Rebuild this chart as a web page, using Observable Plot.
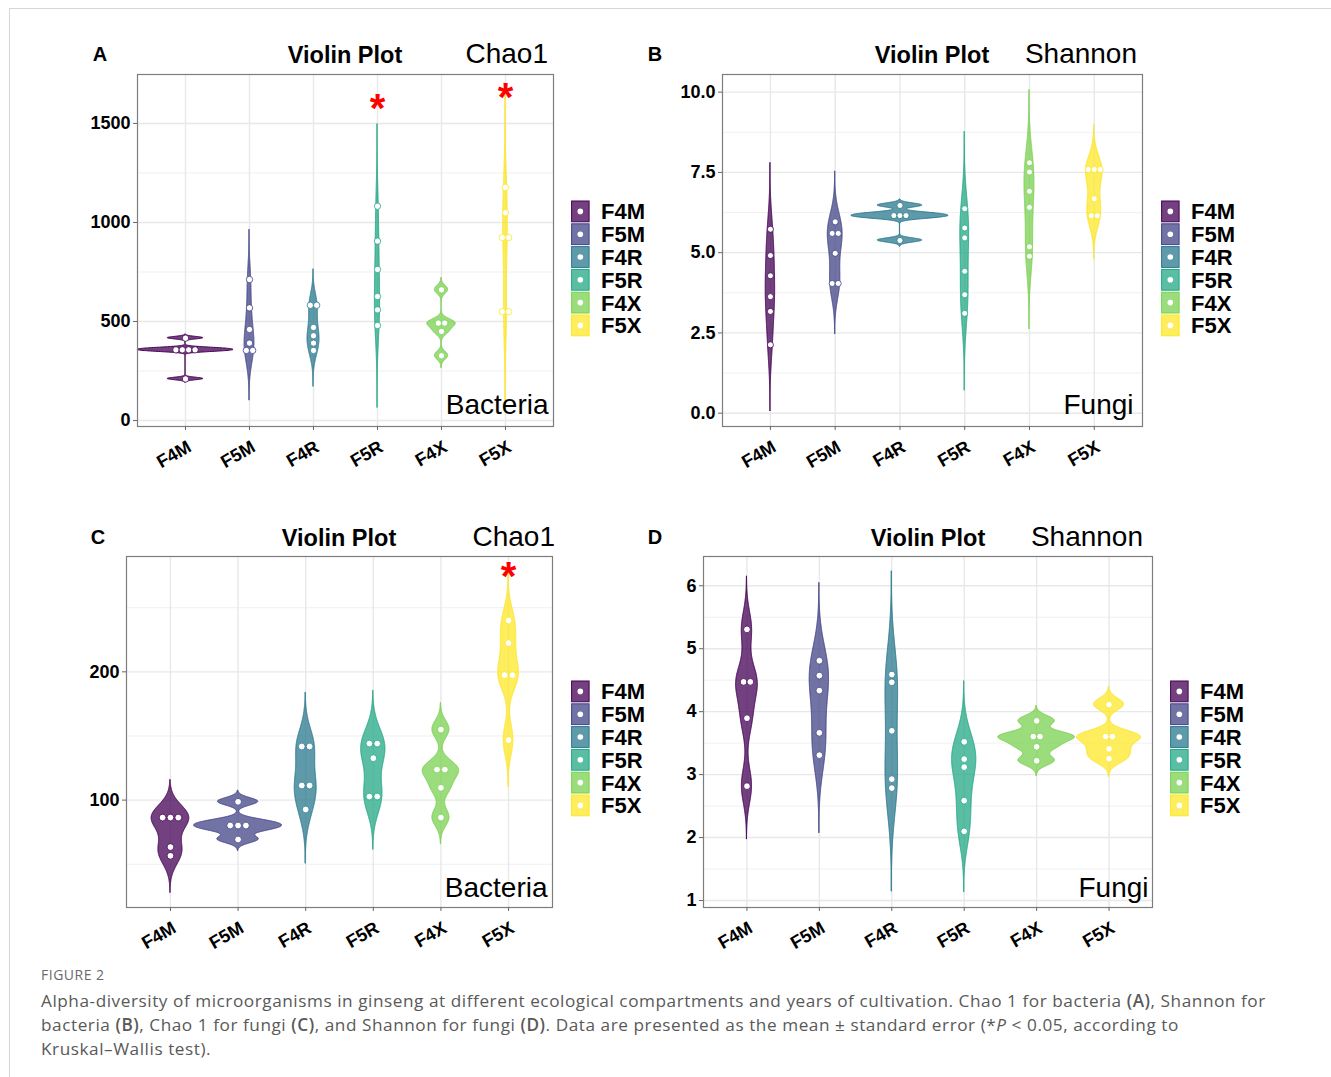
<!DOCTYPE html>
<html><head><meta charset="utf-8">
<script src="https://cdn.jsdelivr.net/npm/d3@7"></script>
<script src="https://cdn.jsdelivr.net/npm/@observablehq/plot@0.6"></script>
<style>
html,body{margin:0;padding:0;background:#fff;overflow:hidden;}
#page{position:relative;width:1331px;height:1077px;overflow:hidden;background:#fff;font-family:"Liberation Sans",Arial,sans-serif;}
#border{position:absolute;left:9px;top:8px;width:1400px;height:1200px;border:1.5px solid #d6d6d6;box-sizing:border-box;}
.panel{position:absolute;}
.panel svg{background:transparent;max-width:none;}
#caption{position:absolute;left:41px;top:963px;font-family:"Open Sans","Noto Sans",sans-serif;color:#595959;white-space:nowrap;}
#caption .fig{font-size:14px;letter-spacing:0.5px;line-height:24px;color:#6a6a6a;}
#caption .txt{font-size:17.2px;letter-spacing:0.55px;line-height:24px;margin-top:2px;}
#caption b{font-weight:600;}
</style></head>
<body><div id="page"><div id="border"></div></div>
<script>
// ---------- data ----------
const groups = ["F4M", "F5M", "F4R", "F5R", "F4X", "F5X"];
const viridis = ["#440154", "#414487", "#2A788E", "#22A884", "#7AD151", "#FDE725"];

// Panel A: Chao1, bacteria (one array per group, in group order)
const chao1A = [
  [416, 365, 360, 354, 349, 210],
  [712, 569, 460, 391, 354, 354],
  [582, 582, 470, 428, 391, 354],
  [1082, 906, 763, 626, 559, 480],
  [660, 492, 492, 450, 327],
  [1177, 1049, 924, 924, 550, 550]
];
// Panel B: Shannon
const shannonB = [
  [5.73, 4.91, 4.28, 3.63, 3.17, 2.13],
  [5.96, 5.60, 5.60, 4.98, 4.04, 4.04],
  [6.47, 6.22, 6.15, 6.09, 5.38],
  [6.37, 5.77, 5.46, 4.42, 3.69, 3.11],
  [7.80, 7.51, 6.91, 6.41, 5.18, 4.89],
  [7.63, 7.55, 7.55, 6.68, 6.15, 6.15]
];
// Panel C: Chao1
const chao1C = [
  [87.0, 86.4, 85.8, 63.4, 56.6],
  [98.7, 83.2, 80.2, 77.2, 69.3],
  [141.8, 141.8, 111.4, 111.4, 92.7],
  [144.1, 144.1, 132.7, 102.8, 102.8],
  [155.0, 123.8, 123.8, 109.6, 86.4],
  [240.0, 222.4, 197.4, 197.4, 146.8]
];
// Panel D: Shannon
const shannonD = [
  [5.307, 4.473, 4.473, 3.896, 2.817],
  [4.810, 4.573, 4.335, 3.664, 3.309],
  [4.590, 4.467, 3.696, 2.928, 2.786],
  [3.521, 3.246, 3.119, 2.586, 2.099],
  [3.854, 3.605, 3.605, 3.442, 3.220],
  [4.113, 3.605, 3.605, 3.410, 3.252]
];

const yTicksA = [0, 500, 1000, 1500], yMinorA = [250, 750, 1250];
const yTicksB = [0, 2.5, 5, 7.5, 10], yMinorB = [1.25, 3.75, 6.25, 8.75];
const yTicksC = [100, 200], yMinorC = [50, 150, 250];
const yTicksD = [1, 2, 3, 4, 5, 6], yMinorD = [1.5, 2.5, 3.5, 4.5, 5.5];

// significance stars (group, value where the star sits)
const starsA = [["F5R", 1616], ["F5X", 1672]];
const starsC = [["F5X", 281]];

// ---------- helpers ----------
function nrd0(v) {
  const s = d3.sort(v), n = s.length;
  const sd = d3.deviation(s);
  const iqr = d3.quantileSorted(s, 0.75) - d3.quantileSorted(s, 0.25);
  let lo = Math.min(sd, iqr / 1.34);
  if (!(lo > 0)) lo = sd || Math.abs(s[0]) || 1;
  return 0.9 * lo * Math.pow(n, -0.2);
}
function violin(values, gi) {
  const bw = nrd0(values);
  const lo = d3.min(values) - 3 * bw, hi = d3.max(values) + 3 * bw, N = 512;
  return d3.range(N).map(k => {
    const y = lo + (hi - lo) * k / (N - 1);
    const dens = d3.sum(values, v => Math.exp(-0.5 * ((y - v) / bw) ** 2)) / (values.length * bw * Math.sqrt(2 * Math.PI));
    return {group: groups[gi], i: gi + 1, y, dens};
  });
}
function dotBins(values, gi, binwidth) {
  const s = d3.sort(values), bins = [];
  let cur = null;
  for (const v of s) {
    if (cur && v < cur.start + binwidth) cur.vals.push(v);
    else { cur = {start: v, vals: [v]}; bins.push(cur); }
  }
  return bins.flatMap(b => {
    const c = (b.vals[0] + b.vals[b.vals.length - 1]) / 2, n = b.vals.length;
    return b.vals.map((_, k) => ({group: groups[gi], i: gi + 1, y: c, off: k - (n - 1) / 2}));
  });
}

const panels = [
  {values: chao1A, yDomain: [-30, 1747], xDomain: [0.25, 6.75], maxHalf: 0.75,
   frame: {l: 137, r: 553, t: 74, b: 426}, ticks: yTicksA, minor: yMinorA, fmt: d3.format("d"),
   label: "Bacteria", ldx: -5, ldy: -13, stars: starsA, legend: {x: 571, y: 200}},
  {values: shannonB, yDomain: [-0.415, 10.55], xDomain: [0.26, 6.745], maxHalf: 0.75,
   frame: {l: 722, r: 1142, t: 74, b: 426}, ticks: yTicksB, minor: yMinorB, fmt: d3.format(".1f"),
   label: "Fungi", ldx: -9, ldy: -13, stars: [], legend: {x: 1161, y: 200}},
  {values: chao1C, yDomain: [16.3, 289.9], xDomain: [0.35, 6.65], maxHalf: 0.65,
   frame: {l: 126, r: 552, t: 556, b: 907}, ticks: yTicksC, minor: yMinorC, fmt: d3.format("d"),
   label: "Bacteria", ldx: -5, ldy: -11, stars: starsC, legend: {x: 571, y: 680}},
  {values: shannonD, yDomain: [0.889, 6.465], xDomain: [0.4, 6.6], maxHalf: 0.53,
   frame: {l: 703, r: 1152, t: 556, b: 907}, ticks: yTicksD, minor: yMinorD, fmt: d3.format("d"),
   label: "Fungi", ldx: -4, ldy: -11, stars: [], legend: {x: 1170, y: 680}}
];

const page = d3.select("#page");
const FONT = "'Liberation Sans', Arial, Helvetica, sans-serif";

for (const p of panels) {
  const f = p.frame;
  const mL = 100, mR = 10, mT = 30, mB = 70;
  const W = (f.r - f.l) + mL + mR, H = (f.b - f.t) + mT + mB;
  const plotW = f.r - f.l, plotH = f.b - f.t;
  const pxPerY = plotH / (p.yDomain[1] - p.yDomain[0]);
  const pxPerX = plotW / (p.xDomain[1] - p.xDomain[0]);

  const vio = p.values.flatMap((v, gi) => violin(v, gi));
  const maxD = d3.max(vio, d => d.dens);
  vio.forEach(d => { const w = p.maxHalf * d.dens / maxD; d.x1 = d.i - w; d.x2 = d.i + w; });

  const all = p.values.flat();
  const binwidth = (d3.max(all) - d3.min(all)) / 30;
  const stepPx = binwidth * pxPerY;
  const dots = p.values.flatMap((v, gi) => dotBins(v, gi, binwidth));
  dots.forEach(d => { d.x = d.i + d.off * stepPx / pxPerX; });
  const r = Math.min(3.4, Math.max(2.8, stepPx * 0.5));

  const chart = Plot.plot({
    width: W, height: H,
    marginLeft: mL, marginRight: mR, marginTop: mT, marginBottom: mB,
    x: {type: "linear", domain: p.xDomain},
    y: {domain: p.yDomain},
    color: {domain: groups, range: viridis},
    style: {fontFamily: FONT, background: "transparent", color: "black", overflow: "visible"},
    marks: [
      Plot.gridY(p.minor, {stroke: "#ececec", strokeOpacity: 1, strokeWidth: 0.8}),
      Plot.gridY(p.ticks, {stroke: "#e8e8e8", strokeOpacity: 1, strokeWidth: 1.4}),
      Plot.gridX(d3.range(1, 7), {stroke: "#e8e8e8", strokeOpacity: 1, strokeWidth: 1.4}),
      Plot.areaX(vio, {y: "y", x1: "x1", x2: "x2", z: "group", fill: "group", fillOpacity: 0.75,
                       stroke: "group", strokeWidth: 1, curve: "linear"}),
      Plot.dot(dots, {x: "x", y: "y", r, fill: "white", stroke: "group", strokeWidth: 0.8}),
      Plot.text(p.stars, {x: d => groups.indexOf(d[0]) + 1, y: d => d[1], text: () => "*",
                          fill: "#ff0000", fontSize: 40, fontWeight: "bold", lineAnchor: "bottom", dy: 22}),
      Plot.text([p.label], {frameAnchor: "bottom-right", text: d => d, dx: p.ldx, dy: p.ldy,
                            textAnchor: "end", lineAnchor: "bottom", fontSize: 28, fill: "black"}),
      Plot.frame({stroke: "#7d7d7d", strokeWidth: 1.2}),
      Plot.axisY(p.ticks, {tickSize: 4, tickPadding: 3, fontSize: 18, fontWeight: "bold",
                           tickFormat: p.fmt, label: null, stroke: "#666"}),
      Plot.axisX(d3.range(1, 7), {tickSize: 4, tickFormat: () => "", label: null, stroke: "#666"}),
      Plot.text(groups, {x: (d, i) => i + 1, y: () => p.yDomain[0], text: d => d, rotate: -30,
                         textAnchor: "end", lineAnchor: "middle", dx: 4, dy: 19,
                         fontSize: 18, fontWeight: "bold", fill: "black"})
    ]
  });
  page.append("div").attr("class", "panel")
    .style("left", (f.l - mL) + "px").style("top", (f.t - mT) + "px")
    .style("width", W + "px").style("height", H + "px")
    .node().appendChild(chart);

  // legend
  const pitch = 22.8;
  const lg = page.append("svg").style("position", "absolute")
    .style("left", p.legend.x + "px").style("top", p.legend.y + "px")
    .attr("width", 90).attr("height", pitch * 6 + 2);
  groups.forEach((g, i) => {
    lg.append("rect").attr("x", 0.6).attr("y", i * pitch + 1).attr("width", 17.5).attr("height", pitch - 2)
      .attr("fill", viridis[i]).attr("fill-opacity", 0.75).attr("stroke", viridis[i]).attr("stroke-width", 1);
    lg.append("circle").attr("cx", 9.3).attr("cy", i * pitch + pitch / 2).attr("r", 2.8).attr("fill", "white");
    lg.append("text").attr("x", 30).attr("y", i * pitch + pitch / 2).attr("dy", "0.36em")
      .attr("font-family", FONT).attr("font-size", 22).attr("font-weight", "bold").text(g);
  });
}

// titles overlay
const titles = [
  {letter: "A", lx: 100, ly: 61, cx: 345, ty: 63, metric: "Chao1", mx: 548},
  {letter: "B", lx: 655, ly: 61, cx: 932, ty: 63, metric: "Shannon", mx: 1137},
  {letter: "C", lx: 98, ly: 544, cx: 339, ty: 546, metric: "Chao1", mx: 555},
  {letter: "D", lx: 655, ly: 544, cx: 928, ty: 546, metric: "Shannon", mx: 1143}
];
const ov = page.append("svg").style("position", "absolute").style("left", 0).style("top", 0)
  .attr("width", 1331).attr("height", 960).style("pointer-events", "none")
  .attr("font-family", FONT);
for (const t of titles) {
  ov.append("text").attr("x", t.lx).attr("y", t.ly).attr("text-anchor", "middle")
    .attr("font-size", 20).attr("font-weight", "bold").text(t.letter);
  ov.append("text").attr("x", t.cx).attr("y", t.ty).attr("text-anchor", "middle")
    .attr("font-size", 23.5).attr("font-weight", "bold").text("Violin Plot");
  ov.append("text").attr("x", t.mx).attr("y", t.ty - 0.5).attr("text-anchor", "end")
    .attr("font-size", 28).text(t.metric);
}

// caption
page.append("div").attr("id", "caption").html(
  '<div class="fig">FIGURE 2</div>' +
  '<div class="txt">Alpha-diversity of microorganisms in ginseng at different ecological compartments and years of cultivation. Chao 1 for bacteria <b>(A)</b>, Shannon for<br>' +
  'bacteria <b>(B)</b>, Chao 1 for fungi <b>(C)</b>, and Shannon for fungi <b>(D)</b>. Data are presented as the mean \u00b1 standard error (*<i>P</i> &lt; 0.05, according to<br>' +
  'Kruskal\u2013Wallis test).</div>');
</script>
</body></html>
